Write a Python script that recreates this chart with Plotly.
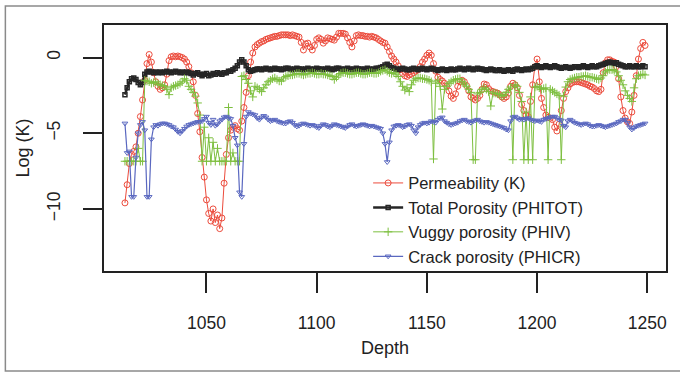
import plotly.graph_objects as go

depth = list(range(1013, 1250))

perm_k = [
    -9.6, -8.4, -7.0, -6.4, -6.2, -5.9, -5.0, -3.9, -2.8, -1.5,
    -0.4, 0.2, -0.3, -1.0, -1.6, -1.9, -2.1, -2.0, -1.8, -1.1,
    -0.2, 0.05, 0.1, 0.05, 0.1, 0.05, 0.0, -0.1, -0.3, -0.6,
    -1.0, -1.6, -2.5, -3.7, -4.9, -6.6, -7.9, -9.4, -10.3, -10.8,
    -10.0, -10.9, -10.4, -11.3, -10.6, -8.3, -6.4, -5.3, -4.8, -4.6,
    -4.5, -4.7, -4.8, -4.2, -3.3, -2.3, -1.2, -0.3, 0.3, 0.7,
    0.85, 0.95, 1.05, 1.1, 1.2, 1.25, 1.3, 1.35, 1.4, 1.4,
    1.45, 1.5, 1.5, 1.5, 1.5, 1.45, 1.5, 1.45, 1.4, 1.35,
    1.0, 0.5, 0.9, 0.95, 0.7, 0.5, 0.8, 1.2, 1.3, 1.2,
    0.95, 1.1, 1.3, 1.25, 1.2, 1.15, 1.35, 1.6, 1.6, 1.6,
    1.55, 1.3, 1.0, 0.7, 1.1, 1.45, 1.5, 1.45, 1.45, 1.4,
    1.4, 1.35, 1.4, 1.35, 1.3, 1.2, 1.1, 1.0, 0.95, 0.7,
    0.4, 0.1, -0.1, -0.3, -0.55, -0.8, -1.05, -1.2, -1.25, -1.15,
    -1.1, -1.0, -0.9, -0.8, -0.6, -0.3, -0.1, 0.15, 0.3, 0.15,
    -0.4, -0.9, -1.3, -1.45, -1.55, -1.7, -1.9, -2.2, -2.55, -2.7,
    -2.4, -1.9, -1.6, -1.5, -1.6, -1.85, -2.2, -2.6, -2.7, -2.8,
    -2.7, -2.5, -2.1, -1.75, -1.8, -2.05, -2.2, -2.25, -2.3, -2.35,
    -2.45, -2.6, -2.7, -2.6, -2.35, -1.9, -1.7, -1.8, -2.0, -2.5,
    -3.1, -3.5, -3.8, -3.9, -2.9, -1.8, -0.6, -0.1, -1.6, -2.7,
    -3.3, -3.8, -3.95, -4.0, -4.1, -4.6, -4.85, -4.4, -3.5, -2.7,
    -2.25, -2.0, -1.75, -1.65, -1.6, -1.6, -1.6, -1.65, -1.7, -1.75,
    -1.8, -1.9, -1.95, -2.05, -2.2, -2.25, -2.1, -1.0, -0.35, -0.15,
    -0.15, -0.25, -0.3, -0.6, -1.4, -2.6, -3.5, -4.0, -4.25, -4.35,
    -3.6, -2.5, -1.2, -0.1, 0.6, 1.0, 0.8,
]

phitot = [
    -2.45, -2.0, -1.6, -1.4, -1.35, -1.45, -1.65, -1.8, -1.65, -1.1,
    -0.95, -0.9, -0.95, -1.0, -0.95, -1.0, -0.95, -1.0, -0.95, -0.9,
    -0.95, -1.0, -0.95, -0.9, -0.95, -1.0, -0.95, -1.0, -0.95, -1.0,
    -1.05, -1.15, -1.05, -1.0, -1.1, -1.2, -1.1, -1.05, -1.2, -1.15,
    -1.05, -1.1, -1.0, -1.05, -1.1, -1.0, -1.0, -0.9, -0.9, -0.8,
    -0.7, -0.55, -0.3, -0.15, -0.3, -0.55, -0.8, -0.9, -0.85, -0.8,
    -0.75, -0.75, -0.8, -0.75, -0.7, -0.75, -0.8, -0.75, -0.7, -0.75,
    -0.75, -0.8, -0.75, -0.7, -0.7, -0.75, -0.8, -0.75, -0.7, -0.75,
    -0.75, -0.8, -0.75, -0.7, -0.75, -0.8, -0.75, -0.7, -0.75, -0.75,
    -0.8, -0.75, -0.7, -0.75, -0.8, -0.75, -0.7, -0.7, -0.75, -0.8,
    -0.75, -0.7, -0.75, -0.8, -0.75, -0.7, -0.75, -0.75, -0.8, -0.75,
    -0.7, -0.75, -0.8, -0.75, -0.7, -0.7, -0.65, -0.6, -0.5, -0.45,
    -0.55, -0.65, -0.7, -0.75, -0.8, -0.75, -0.7, -0.75, -0.8, -0.8,
    -0.75, -0.7, -0.75, -0.8, -0.75, -0.7, -0.75, -0.8, -0.75, -0.7,
    -0.75, -0.8, -0.85, -0.8, -0.75, -0.8, -0.85, -0.8, -0.75, -0.8,
    -0.8, -0.75, -0.7, -0.75, -0.8, -0.75, -0.7, -0.75, -0.8, -0.75,
    -0.7, -0.75, -0.75, -0.8, -0.85, -0.8, -0.75, -0.8, -0.85, -0.85,
    -0.8, -0.85, -0.9, -0.85, -0.8, -0.85, -0.9, -0.8, -0.75, -0.8,
    -0.85, -0.8, -0.75, -0.8, -0.75, -0.7, -0.6, -0.55, -0.6, -0.65,
    -0.6, -0.55, -0.6, -0.65, -0.6, -0.55, -0.6, -0.65, -0.7, -0.65,
    -0.6, -0.65, -0.7, -0.65, -0.6, -0.6, -0.65, -0.6, -0.55, -0.6,
    -0.65, -0.6, -0.55, -0.6, -0.6, -0.55, -0.5, -0.45, -0.4, -0.35,
    -0.3, -0.35, -0.4, -0.35, -0.45, -0.5, -0.55, -0.6, -0.6, -0.55,
    -0.6, -0.6, -0.55, -0.6, -0.6, -0.55, -0.6,
]

phiv = [
    -6.85, -6.85, -6.85, -6.85, -6.85, -6.85, -6.0, -6.85, -6.85, -1.5,
    -1.55, -1.6, -1.7, -1.65, -1.6, -1.75, -1.8, -1.85, -1.9, -2.1,
    -2.45, -2.0, -1.9, -1.85, -1.8, -1.7, -1.6, -1.4, -1.5, -1.9,
    -2.1, -2.3, -2.55, -3.0, -3.8, -6.85, -4.6, -6.85, -5.3, -6.85,
    -5.6, -6.85, -6.0, -6.85, -6.85, -6.85, -6.85, -3.3, -6.85, -6.3,
    -6.85, -6.85, -6.85, -1.25, -1.2, -1.45, -1.7, -2.2, -2.6, -1.9,
    -2.0, -2.1, -2.25, -2.0, -1.8, -1.6, -1.5, -1.4, -1.35, -1.45,
    -1.55, -1.55, -1.35, -1.25, -1.2, -1.15, -1.15, -1.1, -1.05, -1.05,
    -1.1, -1.15, -1.1, -1.05, -1.05, -1.0, -1.05, -1.1, -1.1, -1.05,
    -1.1, -1.1, -1.15, -1.2, -1.25, -1.45, -1.3, -1.15, -1.05, -1.0,
    -1.0, -1.05, -1.1, -1.1, -1.05, -1.0, -1.0, -1.05, -1.1, -1.1,
    -1.05, -1.0, -1.0, -1.05, -1.05, -1.0, -0.9, -0.85, -0.8, -0.9,
    -1.0, -1.05, -1.0, -1.1, -1.25, -1.6, -1.9, -2.15, -2.0, -2.25,
    -1.8, -1.5, -1.4, -1.35, -1.35, -1.4, -1.4, -1.45, -1.5, -1.6,
    -6.7, -1.7, -1.5, -1.9, -3.4, -2.1, -1.9, -1.7, -1.6, -1.5,
    -1.45, -1.4, -1.4, -1.6, -1.75, -1.9, -2.1, -2.3, -6.75, -6.75,
    -2.4, -2.3, -2.1, -2.0, -2.1, -2.25, -3.2, -2.35, -2.35, -2.4,
    -2.45, -2.55, -2.5, -2.3, -2.1, -1.95, -6.75, -1.8, -1.9, -2.3,
    -2.9, -6.75, -3.6, -6.75, -2.6, -6.75, -1.95, -1.9, -2.0, -2.1,
    -2.05, -2.0, -6.75, -2.1, -2.2, -2.3, -2.4, -2.5, -6.75, -2.55,
    -1.95, -1.6, -1.45, -1.4, -1.35, -1.3, -1.3, -1.25, -1.25, -1.2,
    -1.25, -1.3, -1.3, -1.35, -1.4, -1.45, -1.35, -1.2, -0.95, -0.85,
    -0.8, -0.8, -0.85, -0.95, -1.2, -1.5, -1.8, -2.2, -2.5, -2.7,
    -2.9, -2.0, -1.4, -1.2, -1.15, -1.1, -1.15,
]

phicr = [
    -4.35, -6.3, -6.2, -9.2, -9.2, -6.6, -5.0, -4.45, -4.25, -4.8,
    -9.2, -9.2, -5.4, -4.6, -4.45, -4.5, -4.4, -4.35, -4.35, -4.4,
    -4.45, -4.55, -4.6, -4.75, -4.9, -5.0, -4.85, -4.7, -4.55, -4.45,
    -4.4, -4.35, -4.3, -4.25, -4.25, -4.2, -4.05, -3.9, -4.3, -4.45,
    -4.1, -4.5, -4.4, -4.2, -4.1, -3.95, -3.9, -4.0, -4.05, -4.5,
    -5.3, -5.8, -8.9, -9.2, -5.7, -3.9, -3.6, -3.7, -3.75, -3.8,
    -4.0, -4.1, -3.95, -3.85, -3.95, -4.1, -4.2, -4.15, -4.1, -4.2,
    -4.25, -4.3, -4.35, -4.35, -4.25, -4.2, -4.3, -4.45, -4.55, -4.5,
    -4.4, -4.35, -4.4, -4.45, -4.5, -4.45, -4.5, -4.6, -4.65, -4.5,
    -4.4, -4.45, -4.55, -4.6, -4.5, -4.4, -4.45, -4.5, -4.55, -4.6,
    -4.65, -4.55, -4.45, -4.4, -4.5, -4.55, -4.5, -4.45, -4.4, -4.45,
    -4.5, -4.55, -4.5, -4.55, -4.6, -4.65, -4.7, -5.0, -5.7, -6.9,
    -5.6, -4.8, -4.55, -4.5, -4.45, -4.5, -4.6, -4.55, -4.45, -4.4,
    -4.5, -4.8, -5.0, -4.6, -4.45, -4.35, -4.3, -4.35, -4.3, -4.2,
    -4.25, -4.3, -4.1, -4.0, -3.95, -4.2, -4.3, -4.4, -4.45, -4.4,
    -4.35, -4.3, -4.2, -4.15, -4.1, -4.2, -4.25, -4.3, -4.2, -4.15,
    -4.1, -4.2, -4.25, -4.3, -4.25, -4.3, -4.35, -4.4, -4.45, -4.5,
    -4.55, -4.6, -4.65, -4.75, -4.8, -4.2, -3.95, -3.9, -4.0, -4.1,
    -4.05, -4.1, -4.05, -4.0, -4.1, -4.15, -4.2, -4.15, -4.2, -4.25,
    -4.1, -4.05, -4.0, -3.95, -3.9, -3.9, -4.0, -4.1, -4.15, -4.5,
    -4.6, -4.2, -4.1, -4.2, -4.3, -4.35, -4.4, -4.45, -4.4, -4.35,
    -4.4, -4.5, -4.55, -4.55, -4.5, -4.45, -4.5, -4.55, -4.6, -4.55,
    -4.5, -4.45, -4.4, -4.35, -4.25, -4.2, -4.1, -4.1, -4.3, -4.6,
    -4.75, -4.65, -4.55, -4.5, -4.45, -4.4, -4.35,
]

series_names = ["Permeability (K)", "Total Porosity (PHITOT)",
                "Vuggy porosity (PHIV)", "Crack porosity (PHICR)"]
x_ticks = [1050, 1100, 1150, 1200, 1250]
y_ticks = [0, -5, -10]

styles = [
    dict(color="#ec4b3c", symbol="circle-open", size=6, lw=1, mlw=1),
    dict(color="#262626", symbol="square-open", size=4, lw=2.5, mlw=1.5),
    dict(color="#7dbf3f", symbol="cross-thin-open", size=6, lw=1, mlw=1),
    dict(color="#5a68c0", symbol="triangle-down-open", size=5, lw=1.2, mlw=1),
]

fig = go.Figure()
for name, vals, st in zip(series_names, [perm_k, phitot, phiv, phicr], styles):
    fig.add_trace(go.Scatter(
        x=depth, y=vals, name=name, mode="lines+markers",
        line=dict(color=st["color"], width=st["lw"]),
        marker=dict(symbol=st["symbol"], size=st["size"], color=st["color"],
                    line=dict(color=st["color"], width=st["mlw"])),
    ))

font_family = "Liberation Sans, Arial, sans-serif"
txt = "#222222"

fig.update_layout(
    width=680, height=375,
    margin=dict(l=104, r=12, t=25, b=104),
    paper_bgcolor="white", plot_bgcolor="white",
    font=dict(family=font_family, size=17.5, color=txt),
    showlegend=True,
    legend=dict(x=0.47, y=0.428, xanchor="left", yanchor="top",
                bgcolor="rgba(0,0,0,0)", font=dict(size=16.5, color=txt),
                itemwidth=30),
    xaxis=dict(range=[1003.5, 1258.5], tickvals=x_ticks, ticks="outside",
               ticklen=20, tickwidth=1.5, tickcolor="#222",
               showline=True, linecolor="#222", linewidth=1.5, mirror=True,
               showgrid=False, zeroline=False, ticklabelstandoff=15,
               title=dict(text="Depth", font=dict(size=18), standoff=10)),
    yaxis=dict(range=[-14.1, 2.15], tickvals=y_ticks, ticks="outside",
               ticklen=19, tickwidth=1.5, tickcolor="#222", tickangle=-90,
               showline=True, linecolor="#222", linewidth=1.5, mirror=True,
               showgrid=False, zeroline=False, ticklabelstandoff=16,
               title=dict(text="Log (K)", font=dict(size=18), standoff=10)),
)

# outer frame of the figure
fig.add_shape(type="rect", xref="paper", yref="paper",
              x0=-0.1755, x1=1.06, y0=-0.4065, y1=1.0772,
              line=dict(color="#8a8a8a", width=1.5), layer="below")

fig.write_html("out.html")
